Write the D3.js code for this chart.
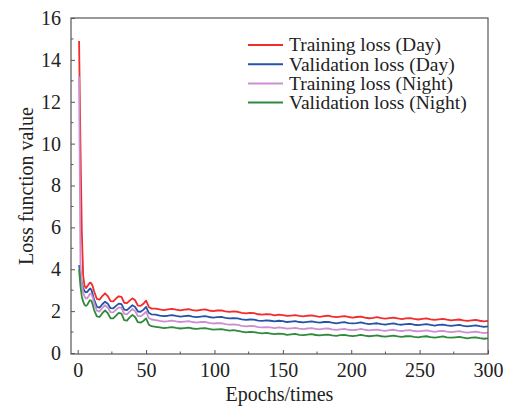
<!DOCTYPE html>
<html><head><meta charset="utf-8">
<script src="https://cdn.jsdelivr.net/npm/d3@7"></script>
<style>html,body{margin:0;padding:0;background:#fff;}svg{display:block;}</style>
</head><body>
<script>
// ---- data ----
const epochs = [1,2,3,4,5,6,7,8,9,10,11,12,
  14,16,18,20,22,24,26,28,30,32,34,36,38,40,42,44,46,48,50,52,54,
  57,60,63,66,69,72,75,78,81,84,87,90,93,96,99,102,105,108,111,114,117,120,123,126,129,132,135,138,141,144,
  147,150,153,156,159,162,165,168,171,174,177,180,183,186,189,192,195,198,201,204,207,210,213,216,219,222,225,228,231,234,
  237,240,243,246,249,252,255,258,261,264,267,270,273,276,279,282,285,288,291,294,297,300];

const trainDay = [14.9,10.0,5.8,3.7,3.2,3.1,3.18,3.28,3.36,3.33,3.18,2.95,
  2.58,2.55,2.72,2.85,2.72,2.48,2.47,2.6,2.71,2.68,2.40,2.38,2.5,2.61,2.52,2.26,2.25,2.35,2.5,2.2,2.12,
  2.12,2.08,2.05,2.08,2.11,2.07,2.04,2.07,2.09,2.05,
  2.02,2.06,2.08,2.03,2.00,2.03,2.04,1.99,1.96,1.99,
  1.97,1.92,1.89,1.92,1.90,1.85,1.83,1.86,1.84,1.80,
  1.83,1.81,1.77,1.79,1.81,1.77,1.75,1.78,1.80,1.76,
  1.73,1.76,1.78,1.74,1.71,1.74,1.76,1.72,1.69,1.72,
  1.74,1.69,1.66,1.68,1.71,1.67,1.64,1.67,1.69,1.65,
  1.62,1.65,1.67,1.63,1.60,1.63,1.65,1.61,1.58,1.61,
  1.63,1.59,1.56,1.58,1.60,1.56,1.53,1.56,1.58,1.54,
  1.51,1.53];

const valDay = [4.2,3.75,3.35,3.1,2.95,2.9,2.92,3.0,3.08,3.02,2.8,2.55,
  2.2,2.17,2.33,2.45,2.35,2.14,2.13,2.25,2.36,2.33,2.07,2.05,2.17,2.28,2.2,1.98,1.97,2.06,2.2,1.92,1.84,
  1.83,1.79,1.76,1.78,1.81,1.77,1.74,1.76,1.78,1.74,
  1.71,1.74,1.76,1.72,1.69,1.71,1.72,1.68,1.65,1.67,
  1.65,1.61,1.58,1.60,1.59,1.55,1.53,1.56,1.54,1.51,
  1.54,1.52,1.48,1.50,1.52,1.48,1.46,1.49,1.51,1.47,
  1.45,1.48,1.49,1.45,1.42,1.45,1.47,1.43,1.41,1.43,
  1.46,1.41,1.38,1.40,1.42,1.38,1.36,1.39,1.41,1.37,
  1.35,1.38,1.39,1.35,1.33,1.36,1.38,1.34,1.31,1.34,
  1.36,1.32,1.30,1.32,1.34,1.30,1.27,1.30,1.32,1.28,
  1.25,1.27];

const trainNight = [13.2,4.3,3.3,2.9,2.7,2.6,2.62,2.72,2.83,2.82,2.65,2.4,
  2.02,1.98,2.15,2.28,2.17,1.95,1.94,2.06,2.18,2.15,1.87,1.85,1.98,2.1,2.0,1.77,1.75,1.84,1.97,1.67,1.6,
  1.57,1.53,1.50,1.52,1.55,1.51,1.48,1.50,1.52,1.48,
  1.45,1.48,1.49,1.44,1.41,1.42,1.43,1.38,1.35,1.37,
  1.34,1.30,1.27,1.29,1.28,1.24,1.22,1.24,1.22,1.19,
  1.22,1.20,1.16,1.18,1.20,1.16,1.14,1.17,1.19,1.15,
  1.13,1.16,1.17,1.13,1.10,1.13,1.15,1.11,1.09,1.11,
  1.15,1.11,1.08,1.10,1.12,1.08,1.06,1.09,1.11,1.07,
  1.05,1.08,1.09,1.05,1.03,1.06,1.08,1.04,1.01,1.04,
  1.06,1.02,1.00,1.02,1.04,1.00,0.97,1.00,1.02,0.98,
  0.95,0.97];

const valNight = [4.0,3.2,2.7,2.45,2.3,2.25,2.3,2.42,2.52,2.5,2.3,2.05,
  1.75,1.72,1.9,2.03,1.9,1.66,1.65,1.78,1.92,1.88,1.57,1.55,1.7,1.82,1.72,1.47,1.45,1.53,1.65,1.35,1.28,
  1.25,1.22,1.19,1.21,1.24,1.20,1.17,1.19,1.21,1.17,
  1.15,1.18,1.19,1.15,1.12,1.13,1.14,1.10,1.07,1.09,
  1.06,1.02,0.99,1.01,1.00,0.96,0.94,0.96,0.93,0.90,
  0.93,0.91,0.87,0.89,0.91,0.87,0.85,0.88,0.90,0.86,
  0.84,0.87,0.88,0.84,0.82,0.85,0.87,0.83,0.81,0.83,
  0.87,0.83,0.80,0.82,0.84,0.80,0.78,0.81,0.83,0.79,
  0.77,0.80,0.81,0.77,0.75,0.78,0.80,0.76,0.73,0.76,
  0.79,0.75,0.73,0.75,0.77,0.73,0.70,0.73,0.75,0.71,
  0.68,0.70];

const seriesNames = ["Training loss (Day)","Validation loss (Day)","Training loss (Night)","Validation loss (Night)"];
const seriesColors = ["#f22b2b","#2553a8","#cc8fd2","#2f8a3b"];
const seriesValues = [trainDay, valDay, trainNight, valNight];
const xTicks = [0,50,100,150,200,250,300];
const yTicks = [0,2,4,6,8,10,12,14,16];
const xLabel = "Epochs/times";
const yLabel = "Loss function value";

// ---- layout ----
const W = 511, H = 408;
const L = 71, R = 488, T = 18, B = 354;
const font = "'Liberation Serif','Times New Roman',serif";

const svg = d3.select("body").append("svg").attr("width", W).attr("height", H);
const x = d3.scaleLinear().domain([-4.9, 300]).range([L, R]);
const y = d3.scaleLinear().domain([0, 16]).range([353, T]);

svg.append("defs").append("clipPath").attr("id","clip")
  .append("rect").attr("x",L).attr("y",T).attr("width",R-L).attr("height",B-T);

// lines
const line = d3.line().x((d,i)=>x(epochs[i])).y(d=>y(d));
const g = svg.append("g").attr("clip-path","url(#clip)");
seriesValues.forEach((vals,k)=>{
  g.append("path").datum(vals).attr("d",line)
    .attr("fill","none").attr("stroke",seriesColors[k]).attr("stroke-width",1.8)
    .attr("stroke-linejoin","round");
});

// axes (ticks inward)
const xAxis = svg.append("g").attr("transform",`translate(0,${B})`)
  .call(d3.axisBottom(x).tickValues(xTicks).tickSize(-4).tickPadding(9).tickFormat(d3.format("d")));
const yAxis = svg.append("g").attr("transform",`translate(${L},0)`)
  .call(d3.axisLeft(y).tickValues(yTicks).tickSize(-4).tickPadding(10).tickFormat(d3.format("d")));
// minor ticks
const xMinor = d3.range(25, 300, 50);
svg.append("g").selectAll("line").data(xMinor).join("line")
  .attr("x1",d=>x(d)).attr("x2",d=>x(d)).attr("y1",B).attr("y2",B-2.5).attr("stroke","#555");
const yMinor = d3.range(1, 16, 2);
svg.append("g").selectAll("line").data(yMinor).join("line")
  .attr("x1",L).attr("x2",L+2.5).attr("y1",d=>y(d)).attr("y2",d=>y(d)).attr("stroke","#555");

[xAxis,yAxis].forEach(a=>{
  a.select(".domain").remove();
  a.selectAll(".tick line").attr("stroke","#555");
  a.selectAll("text").attr("font-family",font).attr("font-size","20px").attr("fill","#222");
});

// frame
svg.append("rect").attr("x",L).attr("y",T).attr("width",R-L).attr("height",B-T)
  .attr("fill","none").attr("stroke","#555").attr("stroke-width",1.2);

// axis labels
svg.append("text").attr("x",(L+R)/2).attr("y",401).attr("text-anchor","middle")
  .attr("font-family",font).attr("font-size","20px").attr("fill","#222").text(xLabel);
svg.append("text").attr("transform",`translate(33,${(T+B)/2}) rotate(-90)`).attr("text-anchor","middle")
  .attr("font-family",font).attr("font-size","20px").attr("fill","#222").text(yLabel);

// legend
const lg = svg.append("g");
seriesNames.forEach((n,k)=>{
  const yy = 45 + k*19.2;
  lg.append("line").attr("x1",248).attr("x2",283).attr("y1",yy).attr("y2",yy)
    .attr("stroke",seriesColors[k]).attr("stroke-width",2);
  lg.append("text").attr("x",289).attr("y",yy).attr("dy","0.33em")
    .attr("font-family",font).attr("font-size","19.5px").attr("fill","#222").text(n);
});
</script>
</body></html>
